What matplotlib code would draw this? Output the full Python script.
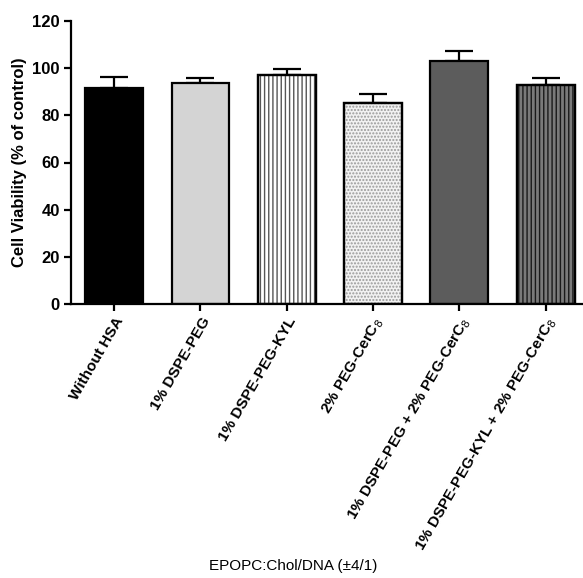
import matplotlib
matplotlib.use("Agg")
import matplotlib.pyplot as plt

plt.rcParams['font.family'] = ['Liberation Sans', 'DejaVu Sans']
plt.rcParams['hatch.linewidth'] = 1.0

categories = ["Without HSA", "1% DSPE-PEG", "1% DSPE-PEG-KYL", "2% PEG-CerC$_8$",
              "1% DSPE-PEG + 2% PEG-CerC$_8$", "1% DSPE-PEG-KYL + 2% PEG-CerC$_8$"]
values = [91.5, 93.9, 97.3, 85.4, 102.9, 93.0]
errors = [4.8, 2.1, 2.2, 3.8, 4.2, 3.0]
facecolors = ["#000000", "#d4d4d4", "#ffffff", "#f2f2f2", "#5c5c5c", "#7a7a7a"]
hatches = [None, None, "||||", ".....", None, "||||"]
hatchcolors = ["k", "k", "#555555", "#999999", "k", "#1a1a1a"]

fig = plt.figure(figsize=(5.83, 5.78), dpi=100)
ax = fig.add_axes([71/583, 1-304/578, 1-71/583+0.01, (304-21)/578])

x = list(range(len(categories)))
for i in x:
    ax.bar(i, values[i], width=0.67, color=facecolors[i], edgecolor='k',
           linewidth=1.6, zorder=2)
    if hatches[i]:
        ax.bar(i, values[i], width=0.67, color='none', edgecolor=hatchcolors[i],
               linewidth=0, hatch=hatches[i], zorder=2)
        ax.bar(i, values[i], width=0.67, color='none', edgecolor='k',
               linewidth=1.6, zorder=3)
    ax.errorbar(i, values[i], yerr=[[0], [errors[i]]], fmt='none', ecolor='k',
                elinewidth=1.6, capsize=10, capthick=1.6, zorder=1)

ax.set_xlim(-0.5, 5.5)
ax.set_ylim(0, 120)
ax.set_yticks([0, 20, 40, 60, 80, 100, 120])
ax.set_xticks(x)
ax.set_xticklabels(categories, rotation=60, ha='right', rotation_mode='anchor',
                   fontsize=11, fontweight='bold')
for lbl in ax.get_yticklabels():
    lbl.set_fontweight('bold')
    lbl.set_fontsize(12)
ax.tick_params(axis='both', direction='out', length=5, width=1.6, pad=3)
ax.spines['top'].set_visible(False)
ax.spines['right'].set_visible(False)
ax.spines['left'].set_linewidth(1.6)
ax.spines['bottom'].set_linewidth(1.6)
ax.set_ylabel("Cell Viability (% of control)", fontsize=12, fontweight='bold', labelpad=4)

fig.text(293/583, 1-566/578, "EPOPC:Chol/DNA (\u00b14/1)", ha='center', va='center', fontsize=11)

fig.savefig("out.png", dpi=100)
